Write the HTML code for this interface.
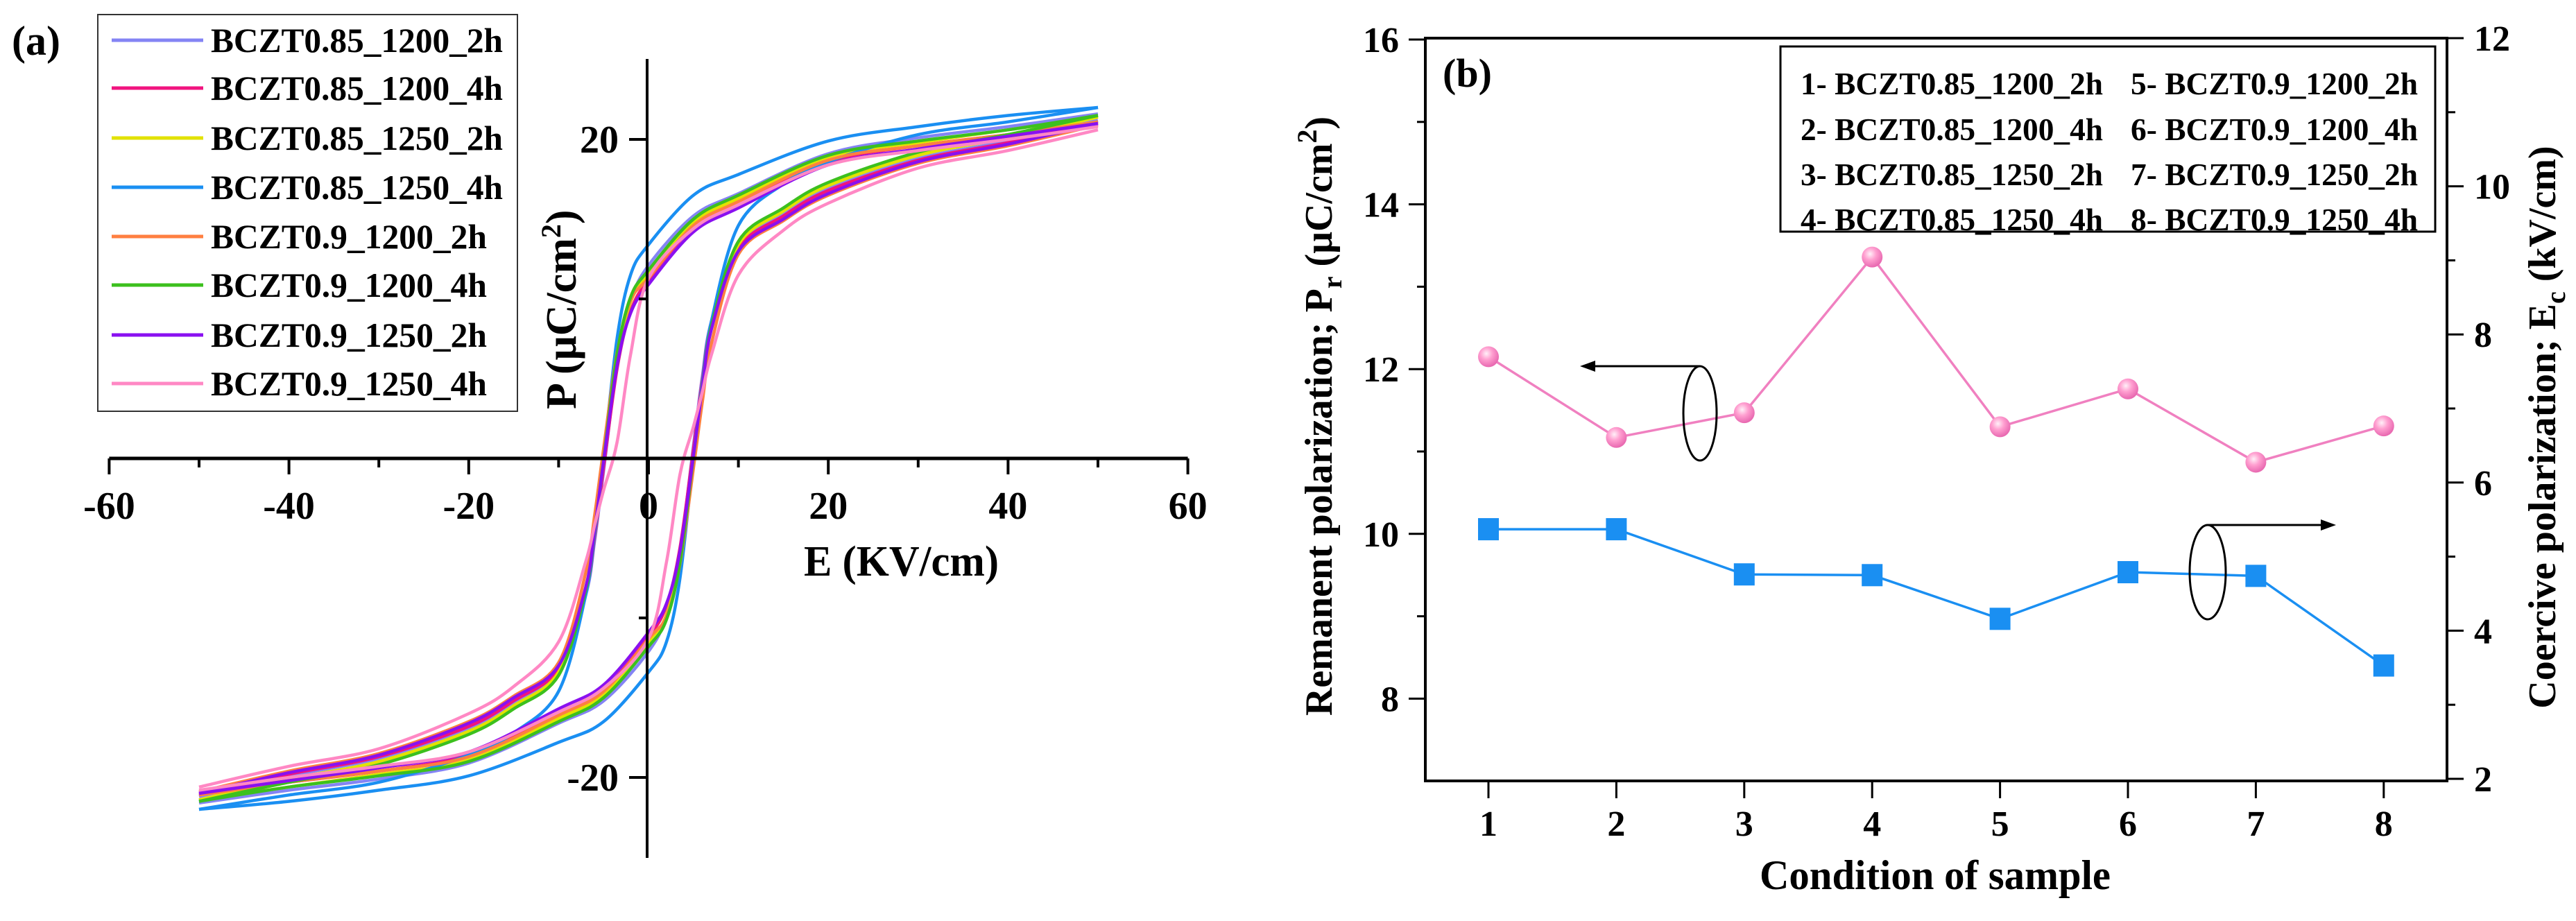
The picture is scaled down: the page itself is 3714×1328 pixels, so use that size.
<!DOCTYPE html>
<html><head><meta charset="utf-8"><style>
html,body{margin:0;padding:0;background:#fff;}
svg{display:block;font-family:"Liberation Serif",serif;font-weight:bold;}
</style></head><body>
<svg id="fig" width="3714" height="1328" viewBox="0 0 3714 1328" xmlns="http://www.w3.org/2000/svg">
<rect x="0" y="0" width="3714" height="1328" fill="#fff"/>
<g id="panelA"></g>
<g id="panelB"></g>
</svg>
<script>
// ---------- Panel (a) data ----------
const eGrid = [-50,-40,-30,-20,-15,-10,-7,-6,-5,-3.5,-2,0,5,10,20,30,40,50];
const sampleNames = ["BCZT0.85_1200_2h","BCZT0.85_1200_4h","BCZT0.85_1250_2h","BCZT0.85_1250_4h","BCZT0.9_1200_2h","BCZT0.9_1200_4h","BCZT0.9_1250_2h","BCZT0.9_1250_4h"];
const sampleColors = ["#8484f4","#f0147f","#e2e200","#1a8ff2","#ff7f40","#3cc01e","#8a10f0","#ff88c4"];
const upperS1 = [-21.2,-19.9,-18.8,-16.9,-15.3,-13.3,-8.6,-5.2,-0.8,5.9,9.8,12.1,15.2,16.6,19.1,20.1,20.8,21.6];
const upperS2 = [-21.1,-19.8,-18.7,-16.8,-15.2,-13.2,-8.5,-5.0,-0.6,5.6,9.2,11.2,14.5,16.0,18.6,19.6,20.3,21.0];
const upperS3 = [-21.4,-20.1,-19.0,-17.1,-15.5,-13.4,-8.2,-4.6,-0.2,6.2,9.8,11.5,14.8,16.3,18.9,19.8,20.6,21.4];
const upperS4 = [-22.0,-21.1,-20.3,-18.6,-17.2,-14.6,-8.6,-4.8,0.0,7.5,11.5,13.4,16.5,17.8,19.9,20.8,21.5,22.0];
const upperS5 = [-20.9,-19.6,-18.5,-16.5,-14.9,-12.8,-7.2,-3.6,0.6,6.6,9.9,11.3,14.6,16.1,18.7,19.6,20.3,21.1];
const upperS6 = [-21.5,-20.3,-19.2,-17.3,-15.7,-13.6,-8.3,-4.6,-0.1,6.5,10.1,11.8,15.0,16.5,19.0,19.9,20.6,21.5];
const upperS7 = [-21.0,-19.7,-18.6,-16.6,-15.0,-13.0,-8.1,-4.5,-0.2,5.8,9.1,10.9,14.2,15.7,18.4,19.4,20.2,21.0];
const upperS8 = [-20.6,-19.3,-18.2,-16.0,-14.3,-11.5,-6.5,-4.2,-2.0,1.0,6.5,11.3,14.4,15.9,18.4,19.3,20.0,20.8];
const upperBranches = [upperS1,upperS2,upperS3,upperS4,upperS5,upperS6,upperS7,upperS8];
const xTicksA = [-60,-40,-20,0,20,40,60];
const yTicksA = [20,-20];

// ---------- Panel (b) data ----------
const conditions = [1,2,3,4,5,6,7,8];
const prValues = [12.15,11.17,11.47,13.36,11.30,11.76,10.87,11.31];
const ecValues = [5.37,5.37,4.76,4.75,4.16,4.79,4.74,3.53];
const leftTicksB = [8,10,12,14,16];
const rightTicksB = [2,4,6,8,10,12];
const legendB = ["1- BCZT0.85_1200_2h","2- BCZT0.85_1200_4h","3- BCZT0.85_1250_2h","4- BCZT0.85_1250_4h","5- BCZT0.9_1200_2h","6- BCZT0.9_1200_4h","7- BCZT0.9_1250_2h","8- BCZT0.9_1250_4h"];

const NS = "http://www.w3.org/2000/svg";
function mk(parent, tag, attrs, text){
  const el = document.createElementNS(NS, tag);
  for (const k in attrs) el.setAttribute(k, attrs[k]);
  if (text !== undefined) el.textContent = text;
  parent.appendChild(el);
  return el;
}
function smooth(pts){
  let d = "M"+pts[0][0].toFixed(1)+","+pts[0][1].toFixed(1);
  for (let i=0;i<pts.length-1;i++){
    const p0=pts[Math.max(0,i-1)], p1=pts[i], p2=pts[i+1], p3=pts[Math.min(pts.length-1,i+2)];
    const c1x=p1[0]+(p2[0]-p0[0])/6, c1y=p1[1]+(p2[1]-p0[1])/6;
    const c2x=p2[0]-(p3[0]-p1[0])/6, c2y=p2[1]-(p3[1]-p1[1])/6;
    d+=" C"+c1x.toFixed(1)+","+c1y.toFixed(1)+" "+c2x.toFixed(1)+","+c2y.toFixed(1)+" "+p2[0].toFixed(1)+","+p2[1].toFixed(1);
  }
  return d;
}

// ---------- Panel (a) ----------
const A = document.getElementById("panelA");
const xA = e => 935 + e*12.96;
const yA = p => 661 - p*23;
// curves
upperBranches.forEach((up, s) => {
  const g = mk(A, "g", {});
  
  
  const upper = [];
  for (let i=eGrid.length-1;i>=0;i--) upper.push([xA(eGrid[i]), yA(up[i])]);
  const lower = [];
  for (let i=eGrid.length-1;i>=0;i--) lower.push([xA(-eGrid[i]), yA(-up[i])]);
  const p1 = mk(g, "path", {d:smooth(upper), fill:"none", stroke:sampleColors[s], "stroke-width":4.5});
  
  
  const p2 = mk(g, "path", {d:smooth(lower), fill:"none", stroke:sampleColors[s], "stroke-width":4.5});
  
  
});
// axes
const xAxA = mk(A, "line", {x1:xA(-60), y1:661, x2:xA(60), y2:661, stroke:"#000", "stroke-width":5});


const yAxA = mk(A, "line", {x1:933, y1:85, x2:933, y2:1237, stroke:"#000", "stroke-width":4});


for (let v=-60; v<=60; v+=10){
  const major = v%20===0;
  const t = mk(A, "line", {x1:xA(v), y1:661, x2:xA(v), y2:major?684:674, stroke:"#000", "stroke-width":4});
  
  
}
xTicksA.forEach(v => {
  const t = mk(A, "text", {x:xA(v), y:748, "font-size":56, "text-anchor":"middle"}, String(v));
  
  
});
[-10,10].forEach(v => {
  const t = mk(A, "line", {x1:921, y1:yA(v), x2:933, y2:yA(v), stroke:"#000", "stroke-width":4});
  
  
});
yTicksA.forEach(v => {
  const t = mk(A, "line", {x1:907, y1:yA(v), x2:933, y2:yA(v), stroke:"#000", "stroke-width":4});
  
  
  const l = mk(A, "text", {x:892, y:yA(v)+19, "font-size":56, "text-anchor":"end"}, String(v));
  
  
});
</script>
<script>
// static labels & legend for panel A
(function(){
const A = document.getElementById("panelA");
const NS = "http://www.w3.org/2000/svg";
function mk(parent, tag, attrs, text){ const el=document.createElementNS(NS,tag); for(const k in attrs) el.setAttribute(k,attrs[k]); if(text!==undefined) el.textContent=text; parent.appendChild(el); return el; }
const ttl = mk(A,"text",{x:1159,y:830,"font-size":62,textLength:281,lengthAdjust:"spacingAndGlyphs"},"E (KV/cm)");


const yl = mk(A,"text",{x:0,y:0,"font-size":62,transform:"translate(830,590) rotate(-90)"});


mk(yl,"tspan",{},"P (μC/cm");
mk(yl,"tspan",{dy:-22,"font-size":40},"2");
mk(yl,"tspan",{dy:22},")");
const pa = mk(A,"text",{x:17,y:79,"font-size":60},"(a)");


const lg = mk(A,"g",{});


const box = mk(lg,"rect",{x:141,y:21,width:605,height:572,fill:"#fff",stroke:"#333","stroke-width":2});


const rows=[58,127,199,270,341,411,483,553];
sampleNames.forEach((n,i)=>{
  const e = mk(lg,"g",{});
  
  
  mk(e,"line",{x1:161,y1:rows[i],x2:293,y2:rows[i],stroke:sampleColors[i],"stroke-width":5});
  mk(e,"text",{x:304,y:rows[i]+17,"font-size":50,textLength:n.indexOf("0.85")>0?421:398,lengthAdjust:"spacingAndGlyphs"},n);
});
})();
</script>
<script>
// ---------- Panel (b) ----------
(function(){
const B = document.getElementById("panelB");
const NS = "http://www.w3.org/2000/svg";
function mk(parent, tag, attrs, text){ const el=document.createElementNS(NS,tag); for(const k in attrs) el.setAttribute(k,attrs[k]); if(text!==undefined) el.textContent=text; parent.appendChild(el); return el; }
const xB = c => 2146 + (c-1)*184.4;
const yL = v => 57 + (16-v)*118.8;
const yR = v => 55 + (12-v)*106.8;
const L=2055, R=3528, T=55, Bt=1126;
const defs = mk(B,"defs",{});
const rg = mk(defs,"radialGradient",{id:"ball",cx:"0.4",cy:"0.35",r:"0.65"});
mk(rg,"stop",{offset:"0","stop-color":"#fff0f8"});
mk(rg,"stop",{offset:"0.45","stop-color":"#ff9fd0"});
mk(rg,"stop",{offset:"1","stop-color":"#e868b0"});
const frame = mk(B,"rect",{x:L,y:T,width:R-L,height:Bt-T,fill:"none",stroke:"#000","stroke-width":4});


// x ticks
conditions.forEach(c=>{
  const t = mk(B,"line",{x1:xB(c),y1:Bt,x2:xB(c),y2:Bt+25,stroke:"#000","stroke-width":3});
  
  
  const l = mk(B,"text",{x:xB(c),y:1205,"font-size":52,"text-anchor":"middle"},String(c));
  
  
});
for(let v=8; v<=16; v++){
  const major = v%2===0;
  const t = mk(B,"line",{x1:major?L-24:L-12,y1:yL(v),x2:L,y2:yL(v),stroke:"#000","stroke-width":3});
  
  
}
leftTicksB.forEach(v=>{
  const l = mk(B,"text",{x:2017,y:yL(v)+18,"font-size":52,"text-anchor":"end"},String(v));
  
  
});
for(let v=2; v<=12; v++){
  const major = v%2===0;
  const t = mk(B,"line",{x1:R,y1:yR(v),x2:major?R+24:R+12,y2:yR(v),stroke:"#000","stroke-width":3});
  
  
}
rightTicksB.forEach(v=>{
  const l = mk(B,"text",{x:3567,y:yR(v)+18,"font-size":52},String(v));
  
  
});
// Pr series
let pd="";
conditions.forEach((c,i)=>{ pd += (i?" L":"M")+xB(c)+","+yL(prValues[i]); });
const prLine = mk(B,"path",{d:pd,fill:"none",stroke:"#f080c0","stroke-width":3.5});


conditions.forEach((c,i)=>{
  const m = mk(B,"circle",{cx:xB(c),cy:yL(prValues[i]),r:15,fill:"url(#ball)"});
  
  
});
// Ec series
let ed="";
conditions.forEach((c,i)=>{ ed += (i?" L":"M")+xB(c)+","+yR(ecValues[i]); });
const ecLine = mk(B,"path",{d:ed,fill:"none",stroke:"#1a8ff2","stroke-width":3.5});


conditions.forEach((c,i)=>{
  const m = mk(B,"rect",{x:xB(c)-15,y:yR(ecValues[i])-16,width:30,height:32,fill:"#1a8ff2"});
  
  
});
// arrows & ellipses
const a1 = mk(B,"g",{});


mk(a1,"ellipse",{cx:2451,cy:596,rx:24,ry:68,fill:"none",stroke:"#000","stroke-width":3});
mk(a1,"line",{x1:2451,y1:528,x2:2296,y2:528,stroke:"#000","stroke-width":3});
mk(a1,"polygon",{points:"2278,528 2300,520 2300,536",fill:"#000"});
const a2 = mk(B,"g",{});


mk(a2,"ellipse",{cx:3183,cy:825,rx:26,ry:68,fill:"none",stroke:"#000","stroke-width":3});
mk(a2,"line",{x1:3183,y1:757,x2:3350,y2:757,stroke:"#000","stroke-width":3});
mk(a2,"polygon",{points:"3368,757 3346,749 3346,765",fill:"#000"});
// legend
const lg = mk(B,"g",{});


mk(lg,"rect",{x:2567,y:67,width:944,height:267,fill:"#fff",stroke:"#000","stroke-width":3});
const rows=[120,186,251,316];
legendB.forEach((t,i)=>{
  const col = i<4?0:1;
  const e = mk(lg,"text",{x:col?3072:2596,y:rows[i%4]+16,"font-size":46,textLength:col?414:436,lengthAdjust:"spacingAndGlyphs"},t);
  
  
});
const pb = mk(B,"text",{x:2080,y:125,"font-size":58},"(b)");


const xt = mk(B,"text",{x:2790,y:1282,"font-size":60,"text-anchor":"middle",textLength:506,lengthAdjust:"spacingAndGlyphs"},"Condition of sample");


const yl = mk(B,"text",{x:0,y:0,"font-size":56,"text-anchor":"middle",transform:"translate(1920,600) rotate(-90)"});


mk(yl,"tspan",{},"Remanent polarization; P");
mk(yl,"tspan",{dy:14,"font-size":40},"r");
mk(yl,"tspan",{dy:-14}," (μC/cm");
mk(yl,"tspan",{dy:-22,"font-size":40},"2");
mk(yl,"tspan",{dy:22},")");
const yr = mk(B,"text",{x:0,y:0,"font-size":56,"text-anchor":"middle",transform:"translate(3684,616) rotate(-90)"});


mk(yr,"tspan",{},"Coercive polarization; E");
mk(yr,"tspan",{dy:14,"font-size":40},"c");
mk(yr,"tspan",{dy:-14}," (kV/cm)");
})();
</script>
</body></html>
